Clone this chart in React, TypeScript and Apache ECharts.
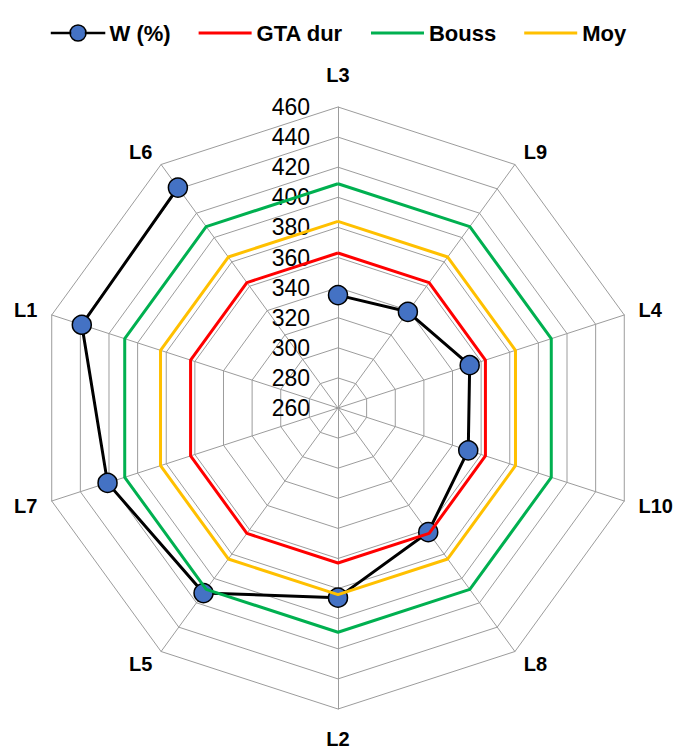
import React, { useEffect, useRef } from "react";
import * as echarts from "echarts";

// Indicators listed clockwise from the top
const categories = ["L3", "L9", "L4", "L10", "L8", "L2", "L5", "L7", "L1", "L6"];
const wValues = [335, 339, 352, 351, 362, 386, 412, 421, 439, 441];
const gtaDurValues = [363, 363, 363, 363, 363, 363, 363, 363, 363, 363];
const boussValues = [409, 409, 409, 409, 409, 409, 409, 409, 409, 409];
const moyValues = [384, 384, 384, 384, 384, 384, 384, 384, 384, 384];
const seriesNames = ["W (%)", "GTA dur", "Bouss", "Moy"];
const axisMin = 260;
const axisMax = 460;
const axisSplits = 10;

const FONT = "Liberation Sans";

// ECharts radar lays indicators counter-clockwise: reorder (keep first, reverse the rest)
const ccw = <T,>(arr: T[]): T[] => [arr[0], ...arr.slice(1).reverse()];

const lineIcon =
  "path://M0,0 L0.01,0 L0,0.01 Z M53,16 L52.99,16 L53,15.99 Z M0,6.5 L53,6.5 L53,9.5 L0,9.5 Z";
const markerIcon =
  "path://M0,7.5 L19,7.5 L19,8.5 L0,8.5 Z M34,7.5 L53,7.5 L53,8.5 L34,8.5 Z M34.5,8 A8,8 0 1,1 18.5,8 A8,8 0 1,1 34.5,8 Z";

export default function App() {
  const ref = useRef<HTMLDivElement>(null);

  useEffect(() => {
    if (!ref.current) return;
    const chart = echarts.init(ref.current, undefined, { renderer: "svg" });
    const gridColor = "#9c9c9c";
    const center = [338, 408];
    const radius = 301;
    chart.setOption({
      animation: false,
      backgroundColor: "#ffffff",
      legend: {
        top: 17,
        left: "center",
        itemWidth: 53,
        itemHeight: 16,
        itemGap: 28,
        selectedMode: false,
        textStyle: { fontFamily: FONT, fontSize: 22, fontWeight: "bold", color: "#000" },
        data: [
          { name: seriesNames[0], icon: markerIcon, itemStyle: { color: "#4472C4", borderColor: "#000", borderWidth: 1.5 } },
          { name: seriesNames[1], icon: lineIcon, itemStyle: { color: "#FF0000", borderWidth: 0 } },
          { name: seriesNames[2], icon: lineIcon, itemStyle: { color: "#00B050", borderWidth: 0 } },
          { name: seriesNames[3], icon: lineIcon, itemStyle: { color: "#FFC000", borderWidth: 0 } },
        ],
      },
      polar: { center, radius },
      angleAxis: {
        type: "category",
        data: categories,
        startAngle: 90,
        clockwise: true,
        boundaryGap: false,
        axisLine: { show: false },
        axisTick: { show: false },
        axisLabel: { show: false },
        splitLine: { show: false },
        splitArea: { show: false },
      },
      radiusAxis: {
        type: "value",
        min: axisMin,
        max: axisMax,
        axisLine: { show: false },
        axisTick: { show: false },
        axisLabel: { show: false },
        splitLine: { show: false },
        splitArea: { show: false },
      },
      radar: {
        center,
        radius,
        startAngle: 90,
        shape: "polygon",
        splitNumber: axisSplits,
        nameGap: 15,
        axisName: {
          color: "#000",
          fontFamily: FONT,
          fontSize: 20,
          fontWeight: "bold",
          padding: [5, 0, 7, 0],
        },
        indicator: ccw(categories).map((name, i) => ({
          name,
          min: axisMin,
          max: axisMax,
          ...(i === 0
            ? {
                axisLabel: {
                  show: true,
                  fontFamily: FONT,
                  fontSize: 23,
                  color: "#000",
                  margin: 28,
                },
              }
            : {}),
        })),
        axisLabel: { show: false },
        axisTick: { show: false },
        axisLine: { show: true, lineStyle: { color: gridColor, width: 1 } },
        splitLine: { show: true, lineStyle: { color: gridColor, width: 1 } },
        splitArea: { show: false },
      },
      series: [
        {
          name: seriesNames[0],
          type: "line",
          coordinateSystem: "polar",
          data: wValues,
          symbol: "circle",
          symbolSize: 19,
          lineStyle: { color: "#000", width: 3 },
          itemStyle: { color: "#4472C4", borderColor: "#000", borderWidth: 1.5 },
          z: 2,
        },
        {
          type: "radar",
          z: 3,
          data: [
            {
              name: seriesNames[1],
              value: ccw(gtaDurValues),
              symbol: "none",
              lineStyle: { color: "#FF0000", width: 3 },
              itemStyle: { color: "#FF0000" },
            },
            {
              name: seriesNames[2],
              value: ccw(boussValues),
              symbol: "none",
              lineStyle: { color: "#00B050", width: 3 },
              itemStyle: { color: "#00B050" },
            },
            {
              name: seriesNames[3],
              value: ccw(moyValues),
              symbol: "none",
              lineStyle: { color: "#FFC000", width: 3 },
              itemStyle: { color: "#FFC000" },
            },
          ],
        },
      ],
    });
    return () => chart.dispose();
  }, []);

  return (
    <div
      ref={ref}
      style={{ position: "absolute", left: 0, top: 0, width: 677, height: 749 }}
    />
  );
}
